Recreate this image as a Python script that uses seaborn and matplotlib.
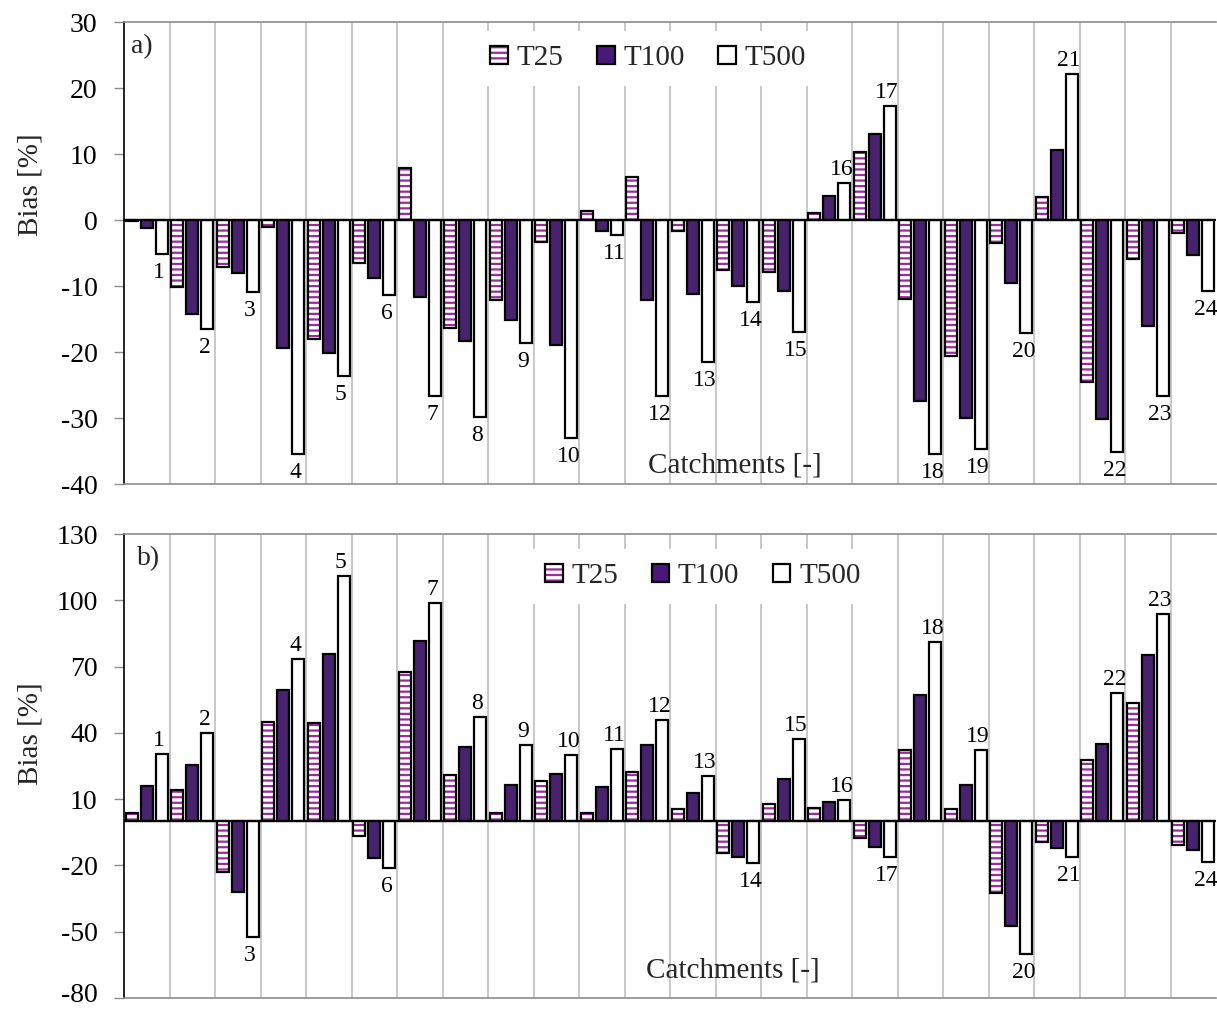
import numpy as np
import pandas as pd
import matplotlib
matplotlib.use("Agg")
import matplotlib.pyplot as plt
from matplotlib.patches import Patch, Rectangle
from matplotlib.legend_handler import HandlerTuple
from matplotlib.ticker import FixedLocator
from matplotlib.transforms import ScaledTranslation
import seaborn as sns

# ---- data -----------------------------------------------------------------
catchments = ["1", "2", "3", "4", "5", "6", "7", "8", "9", "10", "11", "12",
              "13", "14", "15", "16", "17", "18", "19", "20", "21", "22", "23", "24"]
series = ["T25", "T100", "T500"]

# panel a) bias [%]
a_t25 = [-0.2, -10.1, -7.1, -1.1, -18.0, -6.5, 7.9, -16.3, -12.1, -3.3, 1.3, 6.5,
         -1.7, -7.6, -7.9, 1.1, 10.3, -12.0, -20.6, -3.5, 3.5, -24.6, -5.9, -1.9]
a_t100 = [-1.2, -14.2, -8.0, -19.4, -20.1, -8.8, -11.6, -18.4, -15.1, -18.9, -1.6, -12.1,
          -11.2, -10.0, -10.7, 3.7, 13.1, -27.4, -30.0, -9.6, 10.6, -30.1, -16.1, -5.3]
a_t500 = [-5.2, -16.5, -10.9, -35.4, -23.7, -11.4, -26.7, -29.9, -18.6, -33.0, -2.2, -26.7,
          -21.5, -12.4, -16.9, 5.6, 17.2, -35.4, -34.7, -17.1, 22.1, -35.1, -26.6, -10.7]

# panel b) bias [%]
b_t25 = [3.6, 14.2, -23.0, 44.8, 44.5, -6.5, 67.5, 21.1, 3.6, 18.0, 3.6, 22.1,
         5.6, -14.2, 7.9, 5.9, -7.7, 32.1, 5.5, -32.4, -9.5, 27.6, 53.3, -10.8]
b_t100 = [16.1, 25.6, -32.0, 59.4, 75.6, -16.8, 81.4, 33.6, 16.2, 21.5, 15.3, 34.4,
          13.0, -16.1, 19.1, 8.5, -11.8, 57.1, 16.5, -47.4, -12.0, 35.1, 75.1, -13.0]
b_t500 = [30.6, 40.0, -52.4, 73.6, 110.9, -21.1, 98.8, 47.1, 34.4, 30.0, 32.7, 45.9,
          20.6, -19.1, 37.0, 9.4, -16.4, 81.2, 32.1, -60.3, -16.4, 58.2, 93.8, -18.6]

a_ticks = [-40, -30, -20, -10, 0, 10, 20, 30]
b_ticks = [-80, -50, -20, 10, 40, 70, 100, 130]

# ---- style ----------------------------------------------------------------
sns.set_theme(style="white")
plt.rcParams["font.family"] = ["Liberation Serif", "DejaVu Serif"]
plt.rcParams["axes.unicode_minus"] = False
plt.rcParams["hatch.linewidth"] = 1.6

STRIPE = "#9a2c9c"
DARK = "#4a1679"
GRID = "#c8c8c8"
palette = {"T25": "white", "T100": DARK, "T500": "white"}


def long_frame(v25, v100, v500):
    rows = []
    for name, vals in zip(series, (v25, v100, v500)):
        for c, v in zip(catchments, vals):
            rows.append({"catchment": c, "series": name, "bias": v})
    return pd.DataFrame(rows)


def draw_panel(ax, df, ylim, ticks, letter, legend_anchor, ylabel_y, xlabel_pos):
    sns.barplot(data=df, x="catchment", y="bias", hue="series",
                order=catchments, hue_order=series, palette=palette,
                width=1.0, gap=0.2, dodge=True, errorbar=None,
                edgecolor="black", linewidth=1.6, legend=False, ax=ax)

    # T25 bars: purple horizontal stripes inside a black outline
    for bar in ax.containers[0]:
        bar.set_hatch("---")
        bar.set_edgecolor(STRIPE)
        bar.set_linewidth(0)
        ax.add_patch(Rectangle(bar.get_xy(), bar.get_width(), bar.get_height(),
                               fill=False, edgecolor="black", linewidth=1.6,
                               zorder=bar.get_zorder() + 0.1))

    # catchment numbers next to the T500 bars
    for bar, name in zip(ax.containers[2], catchments):
        h = bar.get_height()
        xc = bar.get_x() + bar.get_width() / 2
        dy = 8 if h >= 0 else -24
        ax.annotate(name, xy=(xc, h), xytext=(-3, dy), textcoords="offset pixels",
                    ha="center", va="baseline", fontsize=17, color="black")

    ax.axhline(0, color="black", linewidth=1.6, zorder=3)

    ax.set_xlim(-0.5, len(catchments) - 0.5)
    ax.set_ylim(*ylim)
    ax.set_yticks(ticks)
    ax.set_yticklabels([str(t) for t in ticks])
    ax.set_xticks([])
    ax.xaxis.set_minor_locator(FixedLocator(np.arange(0.5, len(catchments) - 0.5, 1)))
    ax.grid(which="minor", axis="x", color=GRID, linewidth=1.4)
    ax.set_axisbelow(True)
    ax.tick_params(axis="y", which="major", left=True, length=7, width=1.0,
                   color="#8c8c8c", pad=12, labelsize=20, labelcolor="black")
    ax.tick_params(axis="x", which="both", length=0)

    ax.spines["left"].set_color("black")
    ax.spines["left"].set_linewidth(1.2)
    for s in ("top", "bottom"):
        ax.spines[s].set_color("#8c8c8c")
        ax.spines[s].set_linewidth(1.2)
    ax.spines["right"].set_visible(False)

    ax.set_xlabel("")
    ax.set_ylabel("Bias [%]", fontsize=21)
    ax.yaxis.set_label_coords(-0.074, ylabel_y)

    ax.text(xlabel_pos[0], xlabel_pos[1], "Catchments [-]", transform=ax.transAxes,
            ha="center", va="center", fontsize=21)
    ax.text(letter[1], letter[2], letter[0], transform=ax.transAxes,
            ha="left", va="center", fontsize=20)

    h25 = (Patch(facecolor="white", edgecolor=STRIPE, hatch="---", linewidth=0),
           Patch(facecolor="none", edgecolor="black", linewidth=1.6))
    h100 = Patch(facecolor=DARK, edgecolor="black", linewidth=1.6)
    h500 = Patch(facecolor="white", edgecolor="black", linewidth=1.6)
    leg = ax.legend([h25, h100, h500], series, loc="center",
                    bbox_to_anchor=legend_anchor, ncol=3, fontsize=21,
                    handler_map={tuple: HandlerTuple(ndivide=1)},
                    handlelength=0.6, handleheight=0.6, handletextpad=0.3,
                    columnspacing=1.15, borderpad=0.5, frameon=True,
                    fancybox=False, framealpha=1.0)
    leg.get_frame().set_facecolor("white")
    leg.get_frame().set_edgecolor("none")
    leg.set_zorder(5)


fig = plt.figure(figsize=(12.17, 10.09), dpi=100)
ax_a = fig.add_axes([124 / 1217, 1 - 484 / 1009, 1092 / 1217, 462 / 1009])
ax_b = fig.add_axes([124 / 1217, 1 - 998 / 1009, 1092 / 1217, 464 / 1009])

draw_panel(ax_a, long_frame(a_t25, a_t100, a_t500), (-40, 30), a_ticks,
           ("a)", 0.006, 0.946), (0.48, 0.921), 0.647, (0.5595, 0.039))
draw_panel(ax_b, long_frame(b_t25, b_t100, b_t500), (-80, 130), b_ticks,
           ("b)", 0.012, 0.948), (0.53, 0.909), 0.569, (0.5577, 0.060))

# keep the lowest tick label of panel b inside the figure edge
lowest = ax_b.yaxis.get_major_ticks()[0].label1
lowest.set_transform(lowest.get_transform()
                     + ScaledTranslation(0, 6 / 100, fig.dpi_scale_trans))

fig.savefig("out.png", dpi=100)
